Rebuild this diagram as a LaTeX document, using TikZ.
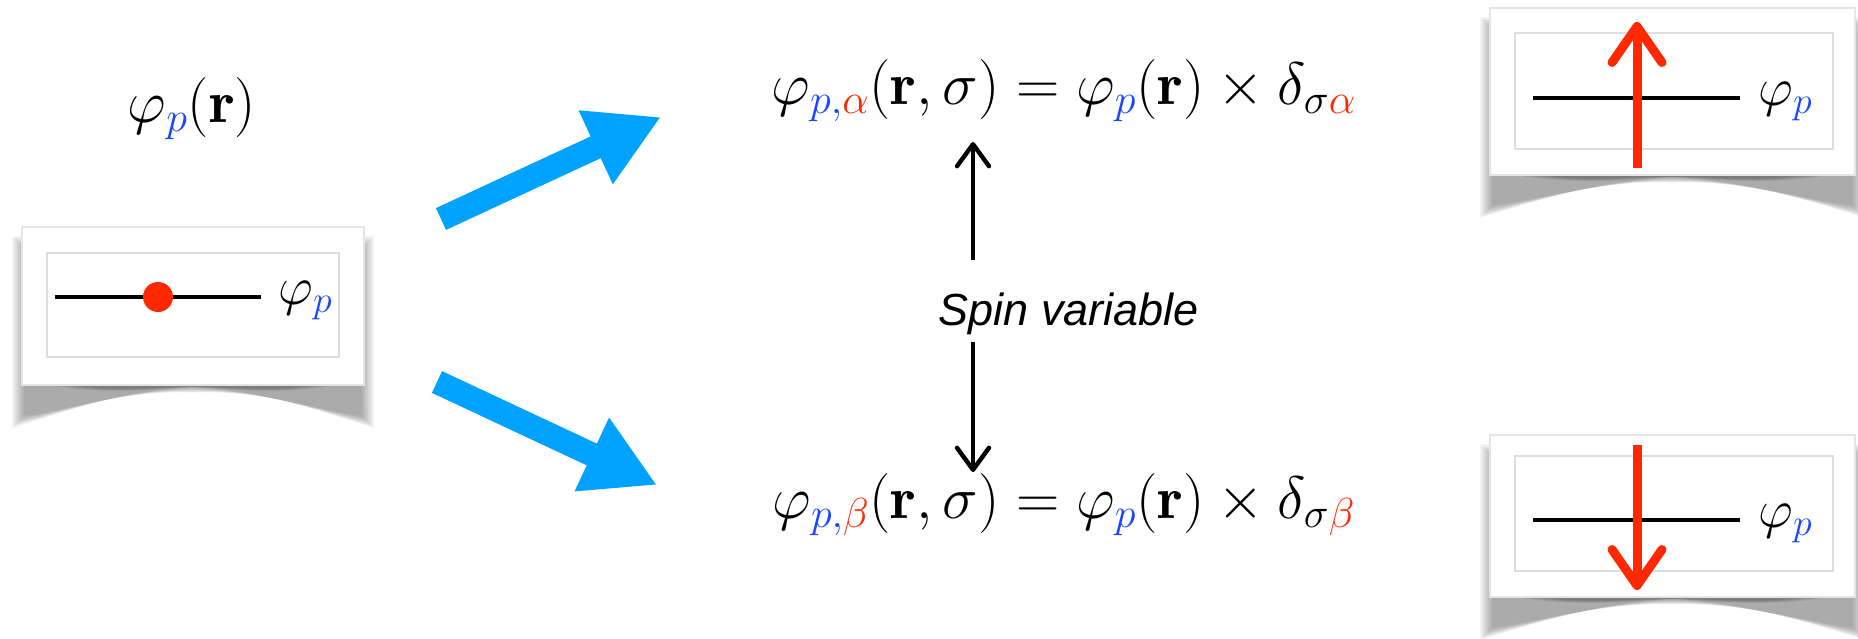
\RequirePackage{fix-cm}
\documentclass[tikz,border=0pt]{standalone}
\usepackage{fontspec}
\newfontfamily\spinfont{Liberation Sans}
\usetikzlibrary{arrows.meta,backgrounds,calc,positioning}
\definecolor{arrowblue}{RGB}{0,162,255}
\definecolor{pblue}{RGB}{25,70,255}
\definecolor{sred}{RGB}{255,40,0}
\newcommand{\bluetx}[1]{{\color{pblue}#1}}
\newcommand{\redtx}[1]{{\color{sred}#1}}

\begin{document}
\begin{tikzpicture}[x=0.5pt, y=-0.5pt,
    card/.style = {draw=black!10, fill=white, line width=0.8pt, inner sep=0pt},
    frame/.style = {draw=black!13, line width=0.6pt, inner sep=0pt},
    level/.style = {line width=2pt},
    fat/.style = {arrowblue, line width=12pt, -{Triangle[length=36pt,width=38pt]}},
    spinarrow/.style = {line width=2.2pt, -{Straight Barb[length=11pt,width=16pt,round]}},
    redarrow/.style = {sred, line width=4.5pt, -{Straight Barb[length=18pt,width=25pt,round]}},
    eq/.style = {font=\fontsize{30}{36}\selectfont, anchor=base, inner sep=0pt},
    lbl/.style = {font=\fontsize{27}{32}\selectfont, anchor=base west, inner sep=0pt}]
  \useasboundingbox (0,0) rectangle (1858,638);

  % cards
  \node[card, minimum width=171pt, minimum height=79pt] (cardL) at (193,306) {};
  \node[card, minimum width=182.5pt, minimum height=83.5pt] (cardA) at (1672.5,91.5) {};
  \node[card, minimum width=182.5pt, minimum height=81pt] (cardB) at (1672.5,516) {};
  \node[frame, minimum width=146pt, minimum height=52pt] (frameL) at (193,305) {};
  \node[frame, minimum width=159pt, minimum height=58pt] (frameA) at (1674,91) {};
  \node[frame, minimum width=159pt, minimum height=57.5pt] (frameB) at (1674,513.5) {};

  \begin{scope}[on background layer]
    \foreach \c in {cardL,cardA,cardB} {
      \foreach \d in {0,1.5,...,12} {
        \fill[black, opacity=0.045]
          ($(\c.north west)+(-9+\d,10+\d)$) -- ($(\c.south west)+(-9+\d,42-\d)$)
          .. controls ($(\c.south west)+(50,24)$) and ($(\c.south)+(-70,4)$) .. ($(\c.south)+(0,2+0.4*\d)$)
          .. controls ($(\c.south)+(70,4)$) and ($(\c.south east)+(-50,24)$) .. ($(\c.south east)+(9-\d,42-\d)$)
          -- ($(\c.north east)+(9-\d,10+\d)$) -- cycle;
      }
      \foreach \d in {0,1,2,3} {
        \fill[black, opacity=0.08]
          ($(\c.south west)+(30+10*\d,0)$)
          .. controls ($(\c.south west)+(90,9-\d)$) and ($(\c.south)+(-40,4-\d)$) .. ($(\c.south)+(0,1)$)
          .. controls ($(\c.south)+(40,4-\d)$) and ($(\c.south east)+(-90,9-\d)$) .. ($(\c.south east)+(-30-10*\d,0)$)
          -- cycle;
      }
    }
  \end{scope}

  % orbital levels
  \draw[level] (55,297) -- (261,297);
  \node[circle, fill=sred, minimum size=15pt, inner sep=0pt] (dot) at (158,297) {};
  \node[lbl] (labL) at (278,304) {$\varphi_{\bluetx{p}}$};
  \draw[level] (1533,98) -- (1740,98);
  \node[lbl] (labA) at (1758,105) {$\varphi_{\bluetx{p}}$};
  \draw[level] (1533,520) -- (1740,520);
  \node[lbl] (labB) at (1758,527) {$\varphi_{\bluetx{p}}$};

  % spins
  \coordinate (upS) at (1637,168);
  \coordinate (upT) at (1637,22);
  \coordinate (dnS) at (1637,445);
  \coordinate (dnT) at (1637,590);
  \draw[redarrow] (upS) -- (upT);
  \draw[redarrow] (dnS) -- (dnT);

  % formulas
  \node[eq] (orb) at (192,122) {$\varphi_{\bluetx{p}}(\mathbf{r})$};
  \node[eq] (eqA) at (1064,104)
    {$\varphi_{\bluetx{p,}\redtx{\alpha}}(\mathbf{r},\sigma) = \varphi_{\bluetx{p}}(\mathbf{r})\times\delta_{\sigma\redtx{\alpha}}$};
  \node[eq] (eqB) at (1064,518)
    {$\varphi_{\bluetx{p,}\redtx{\beta}}(\mathbf{r},\sigma) = \varphi_{\bluetx{p}}(\mathbf{r})\times\delta_{\sigma\redtx{\beta}}$};
  \node[font=\fontsize{22.5}{27}\spinfont\itshape, anchor=base] (spin) at (1069,325) {Spin variable};

  % arrows
  \coordinate (tailA) at (441,219);
  \coordinate (tipA) at (661,117);
  \coordinate (tailB) at (437,382);
  \coordinate (tipB) at (657,485);
  \draw[fat] (tailA) -- (tipA);
  \draw[fat] (tailB) -- (tipB);

  \coordinate (sA) at (973,260);
  \coordinate (tA) at (973,142);
  \coordinate (sB) at (973,342);
  \coordinate (tB) at (973,472);
  \draw[spinarrow] (sA) -- (tA);
  \draw[spinarrow] (sB) -- (tB);
\end{tikzpicture}
\end{document}
